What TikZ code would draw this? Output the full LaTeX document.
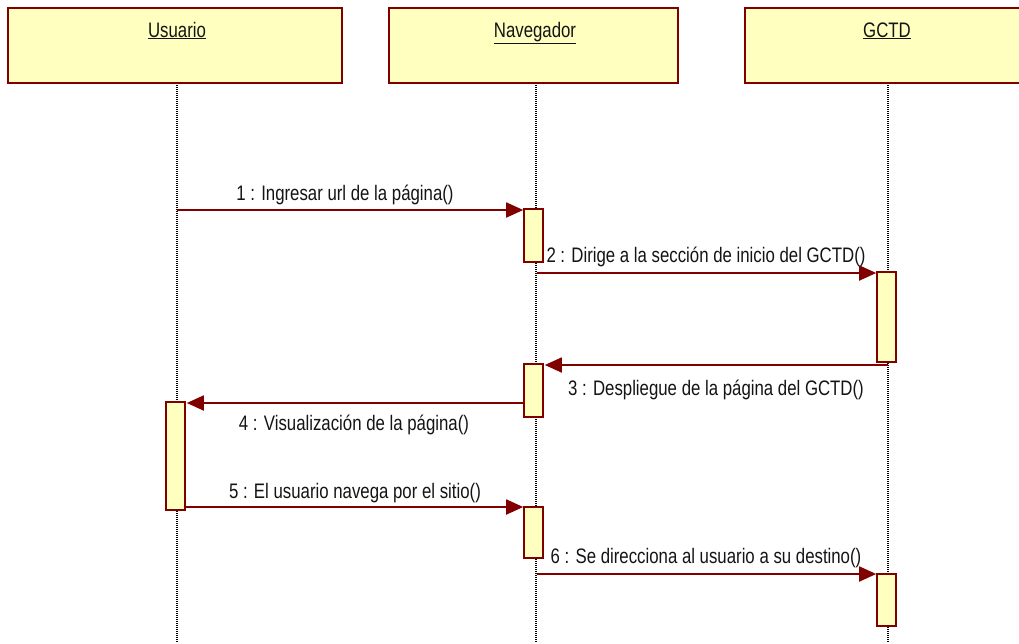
\documentclass[tikz,border=0pt]{standalone}
\usepackage{fontspec}
\setmainfont{Liberation Sans}[FakeStretch=0.8]
\usetikzlibrary{arrows.meta}
\definecolor{umlred}{RGB}{128,0,0}
\definecolor{umlfill}{RGB}{255,255,192}
\definecolor{umltext}{RGB}{20,20,20}
\tikzset{
  header/.style={draw=umlred, fill=umlfill, line width=2pt, inner sep=0pt, minimum height=75pt},
  actbox/.style={draw=umlred, fill=umlfill, line width=1.6pt, inner sep=0pt, minimum width=19pt},
  lifeline/.style={line width=1.3pt, dash pattern=on 1pt off 1pt, black},
  msg/.style={draw=umlred, line width=1.8pt, -{Triangle[length=17pt,width=15pt]}},
  msgtext/.style={anchor=base, inner sep=0pt, text=umltext, font=\fontsize{21}{24}\selectfont},
  headtext/.style={anchor=base, inner sep=0pt, text=umltext, font=\fontsize{21}{24}\selectfont},
}
\begin{document}
\begin{tikzpicture}[x=1pt, y=-1pt]
\clip (0,0) rectangle (1019,643);

% lifelines (drawn first so boxes sit on top)
\coordinate (uTop) at (177,83);  \coordinate (uBot) at (177,643);
\coordinate (nTop) at (536,83);  \coordinate (nBot) at (536,643);
\coordinate (gTop) at (888,83);  \coordinate (gBot) at (888,643);
\draw[lifeline] (uTop) -- (uBot);
\draw[lifeline] (nTop) -- (nBot);
\draw[lifeline] (gTop) -- (gBot);

% participant headers
\node[header, minimum width=334pt] (usr) at (175,45.5) {};
\node[header, minimum width=289pt] (nav) at (533.5,45.5) {};
\node[header, minimum width=290pt] (gctd) at (890,45.5) {};
\node[headtext] (usrT) at (177,37) {\underline{Usuario}};
\node[headtext] (navT) at (535,37) {\underline{Navegador}};
\node[headtext] (gctdT) at (887,37) {\underline{GCTD}};

% activation bars
\node[actbox, minimum height=53pt] (n1) at (533.5,235.5) {};
\node[actbox, minimum height=90pt] (g1) at (886.5,317) {};
\node[actbox, minimum height=53pt] (n2) at (533.5,390.5) {};
\node[actbox, minimum height=108pt] (u1) at (175.5,456) {};
\node[actbox, minimum height=51pt] (n3) at (533.5,532.5) {};
\node[actbox, minimum height=52pt] (g2) at (886.5,600) {};

% message start points on the lifelines
\coordinate (m1) at (177,210);
\coordinate (m2) at (537,273);
\coordinate (m3) at (888,365);
\coordinate (m6) at (537,574);

% messages
\draw[msg] (m1) -- (m1 -| n1.west);
\draw[msg] (m2) -- (m2 -| g1.west);
\draw[msg] (m3) -- ([xshift=1pt]m3 -| n2.east);
\draw[msg] (n2.west |- 0,403) -- ([xshift=1pt]u1.east |- 0,403);
\draw[msg] (u1.east |- 0,507) -- (n3.west |- 0,507);
\draw[msg] (m6) -- (m6 -| g2.west);

% message labels
\node[msgtext] (l1) at (345,200) {1 : Ingresar url de la página()};
\node[msgtext] (l2) at (706,262) {2 : Dirige a la sección de inicio del GCTD()};
\node[msgtext] (l3) at (716,395) {3 : Despliegue de la página del GCTD()};
\node[msgtext] (l4) at (354,430) {4 : Visualización de la página()};
\node[msgtext] (l5) at (355,498) {5 : El usuario navega por el sitio()};
\node[msgtext] (l6) at (706,563) {6 : Se direcciona al usuario a su destino()};
\end{tikzpicture}
\end{document}
